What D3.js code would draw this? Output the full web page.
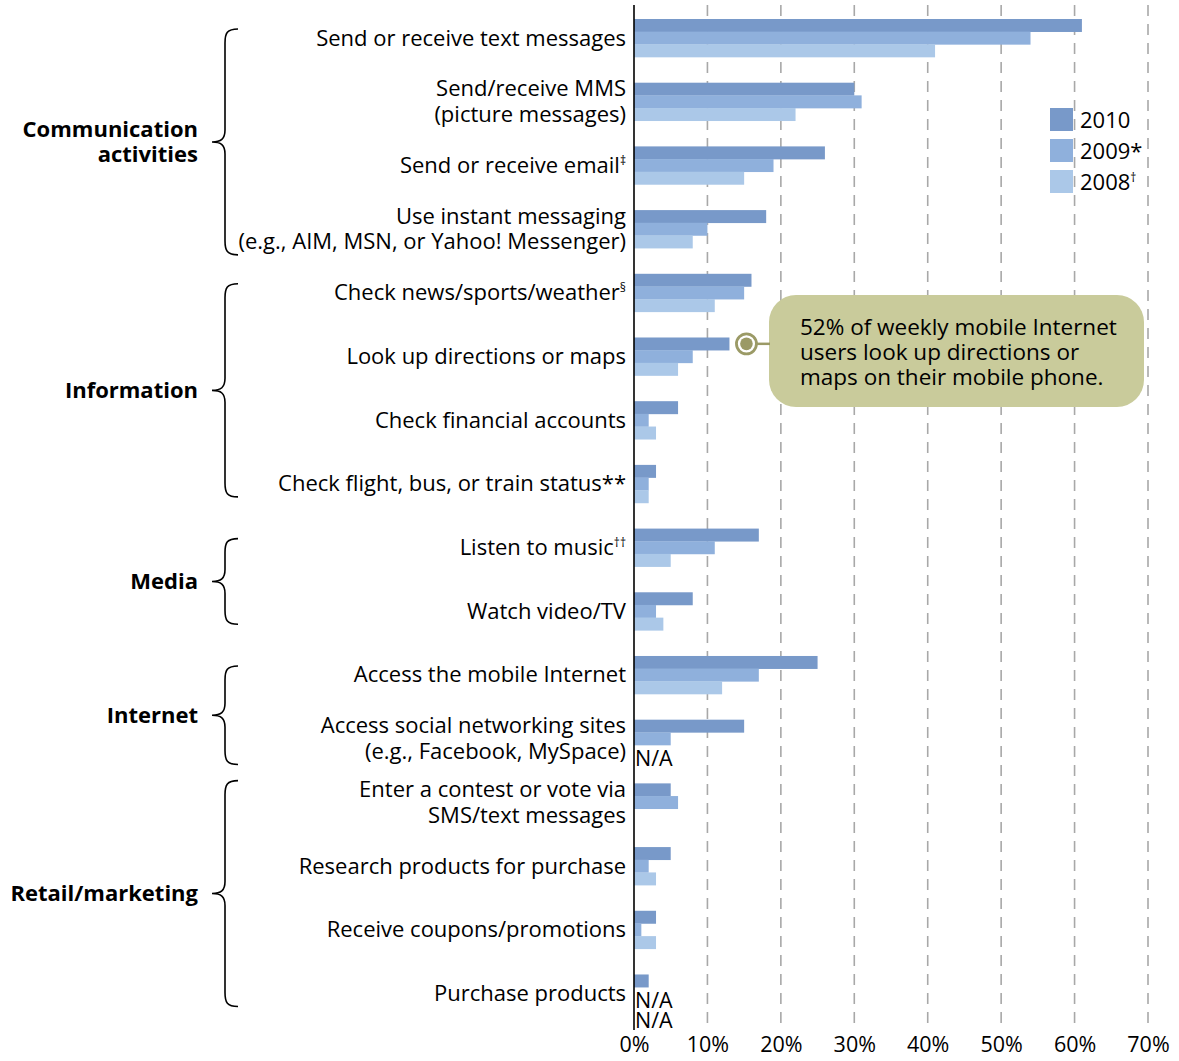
<!DOCTYPE html>
<html>
<head>
<meta charset="utf-8">
<script src="https://cdn.jsdelivr.net/npm/d3@7/dist/d3.min.js"></script>
<style>
  html, body { margin: 0; padding: 0; background: #fff; }
  svg { display: block; }
  text { font-family: "Open Sans", "Noto Sans", sans-serif; fill: #000; }
</style>
</head>
<body>
<svg id="chart" width="1179" height="1061"></svg>
<script>
// Activity labels (one entry per line) and their footnote marks
const activities = [
  ["Send or receive text messages"],
  ["Send/receive MMS", "(picture messages)"],
  ["Send or receive email"],
  ["Use instant messaging", "(e.g., AIM, MSN, or Yahoo! Messenger)"],
  ["Check news/sports/weather"],
  ["Look up directions or maps"],
  ["Check financial accounts"],
  ["Check flight, bus, or train status**"],
  ["Listen to music"],
  ["Watch video/TV"],
  ["Access the mobile Internet"],
  ["Access social networking sites", "(e.g., Facebook, MySpace)"],
  ["Enter a contest or vote via", "SMS/text messages"],
  ["Research products for purchase"],
  ["Receive coupons/promotions"],
  ["Purchase products"]
];
const notes = ["", "", "‡", "", "§", "", "", "", "††", "", "", "", "", "", "", ""];

// Activity groups: label lines and first/last activity index
const groupNames = [["Communication", "activities"], ["Information"], ["Media"], ["Internet"], ["Retail/marketing"]];
const groupStart = [0, 4, 8, 10, 12];
const groupEnd   = [3, 7, 9, 11, 15];

// Share of mobile users doing each activity (%); null = not asked
const years = ["2010", "2009", "2008"];
const yearMarks = ["", "*", "†"];
const values2010 = [61, 30, 26, 18, 16, 13, 6, 3, 17, 8, 25, 15, 5, 5, 3, 2];
const values2009 = [54, 31, 19, 10, 15, 8, 2, 2, 11, 3, 17, 5, 6, 2, 1, null];
const values2008 = [41, 22, 15, 8, 11, 6, 3, 2, 5, 4, 12, null, 3, 3, 2, null];
const xTicks = [0, 10, 20, 30, 40, 50, 60, 70];

const calloutLines = ["52% of weekly mobile Internet", "users look up directions or", "maps on their mobile phone."];
const calloutRow = 5;

const colors = { "2010": "#7899c9", "2009": "#8fb0dc", "2008": "#abc8e8" };
const series = { "2010": values2010, "2009": values2009, "2008": values2008 };

const svg = d3.select("#chart");

const x = d3.scaleLinear().domain([0, 70]).range([634, 1148]);
const y = d3.scaleBand().domain(d3.range(activities.length)).range([19, 1012.5])
  .paddingInner(0.403).paddingOuter(0);
const ySub = d3.scaleBand().domain(years).range([0, y.bandwidth()]);

const gridTop = 5, axisY = 1027;
const labelSize = 22;

// dashed vertical gridlines
svg.append("g").selectAll("line").data(xTicks.filter(d => d > 0)).join("line")
  .attr("x1", d => x(d)).attr("x2", d => x(d))
  .attr("y1", gridTop).attr("y2", axisY)
  .attr("stroke", "#a8a8a8").attr("stroke-width", 1.6)
  .attr("stroke-dasharray", "11,8");

// x axis labels
const xAxis = d3.axisBottom(x).tickValues(xTicks).tickFormat(d => d + "%").tickSize(0).tickPadding(10);
const gx = svg.append("g").attr("transform", `translate(0,${axisY})`).call(xAxis);
gx.select(".domain").remove();
gx.selectAll("text").attr("font-size", 21.5).attr("font-family", "\"Open Sans\", sans-serif").attr("fill", "#000");

// bars
const rows = svg.append("g").selectAll("g").data(activities).join("g")
  .attr("transform", (d, i) => `translate(0,${y(i)})`);

years.forEach(yr => {
  rows.append("rect")
    .filter((d, i) => series[yr][i] != null)
    .attr("x", x(0))
    .attr("y", ySub(yr))
    .attr("width", (d, i) => x(series[yr][i]) - x(0))
    .attr("height", ySub.bandwidth() + 0.3)
    .attr("fill", colors[yr]);
});

// N/A notes for missing values
rows.each(function (d, i) {
  const missing = years.filter(yr => series[yr][i] == null);
  missing.forEach((yr, k) => {
    d3.select(this).append("text")
      .attr("x", x(0) + 1)
      .attr("y", ySub(missing[0]) + ySub.bandwidth() / 2 + 14.5 + k * 20)
      .attr("font-size", 21.5)
      .text("N/A");
  });
});

// value axis line
svg.append("line").attr("x1", x(0)).attr("x2", x(0)).attr("y1", gridTop).attr("y2", axisY + 3)
  .attr("stroke", "#000").attr("stroke-width", 1.6);

// activity labels
const lineH = 25.5;
rows.each(function (lines, i) {
  const cy = y.bandwidth() / 2;
  const t = d3.select(this).append("text")
    .attr("text-anchor", "end").attr("font-size", labelSize);
  lines.forEach((ln, k) => {
    const ty = cy + (k - (lines.length - 1) / 2) * lineH + 7.5;
    t.append("tspan").attr("x", 626).attr("y", ty).text(ln);
    if (k === lines.length - 1 && notes[i]) {
      t.append("tspan").attr("font-size", 12).attr("dy", -8).text(notes[i]);
    }
  });
});

// group braces and labels
function lineCenters(i) {
  const n = activities[i].length;
  const c = y(i) + y.bandwidth() / 2;
  return [c - (n - 1) / 2 * lineH, c + (n - 1) / 2 * lineH];
}
const braceG = svg.append("g");
groupNames.forEach((name, g) => {
  const top = lineCenters(groupStart[g])[0] - 9;
  const bot = lineCenters(groupEnd[g])[1] + 13;
  const mid = (top + bot) / 2;
  const xe = 238, xv = 225, xt = 212;
  const p = `M${xe},${top} C${xv + 2},${top} ${xv},${top + 4} ${xv},${top + 14}
    L${xv},${mid - 12} C${xv},${mid - 3} ${xv - 4},${mid} ${xt},${mid}
    C${xv - 4},${mid} ${xv},${mid + 3} ${xv},${mid + 12}
    L${xv},${bot - 14} C${xv},${bot - 4} ${xv + 2},${bot} ${xe},${bot}`;
  braceG.append("path").attr("d", p).attr("fill", "none").attr("stroke", "#000").attr("stroke-width", 1.6);
  const t = braceG.append("text").attr("text-anchor", "end").attr("font-size", 22).attr("font-weight", 700);
  name.forEach((ln, k) => {
    t.append("tspan").attr("x", 198).attr("y", mid + (k - (name.length - 1) / 2) * lineH + 7.5).text(ln);
  });
});

// legend
const legend = svg.append("g").attr("transform", "translate(1050,108)");
years.forEach((yr, k) => {
  legend.append("rect").attr("x", 0).attr("y", k * 31).attr("width", 23).attr("height", 23).attr("fill", colors[yr]);
  const t = legend.append("text").attr("x", 30).attr("y", k * 31 + 19.5).attr("font-size", 22).text(yr);
  if (yearMarks[k] === "†") t.append("tspan").attr("font-size", 12).attr("dy", -8).text("†");
  else if (yearMarks[k]) t.append("tspan").text(yearMarks[k]);
});

// callout on the directions/maps bar
const markerY = y(calloutRow) + ySub("2010") + ySub.bandwidth() / 2;
const markerX = x(values2010[calloutRow]) + 17;
const olive = "#9b9a66";
const callout = svg.append("g");
callout.append("rect").attr("x", 769).attr("y", 295).attr("width", 375).attr("height", 112)
  .attr("rx", 27).attr("fill", "#c9cb9b");
callout.append("line").attr("x1", markerX + 10).attr("x2", 770).attr("y1", markerY).attr("y2", markerY)
  .attr("stroke", olive).attr("stroke-width", 2.5);
callout.append("circle").attr("cx", markerX).attr("cy", markerY).attr("r", 10)
  .attr("fill", "#fff").attr("stroke", olive).attr("stroke-width", 2.8);
callout.append("circle").attr("cx", markerX).attr("cy", markerY).attr("r", 6.3).attr("fill", olive);
const ct = callout.append("text").attr("font-size", 22.5);
calloutLines.forEach((ln, k) => {
  ct.append("tspan").attr("x", 800).attr("y", 335 + k * 25).text(ln);
});
</script>
</body>
</html>
